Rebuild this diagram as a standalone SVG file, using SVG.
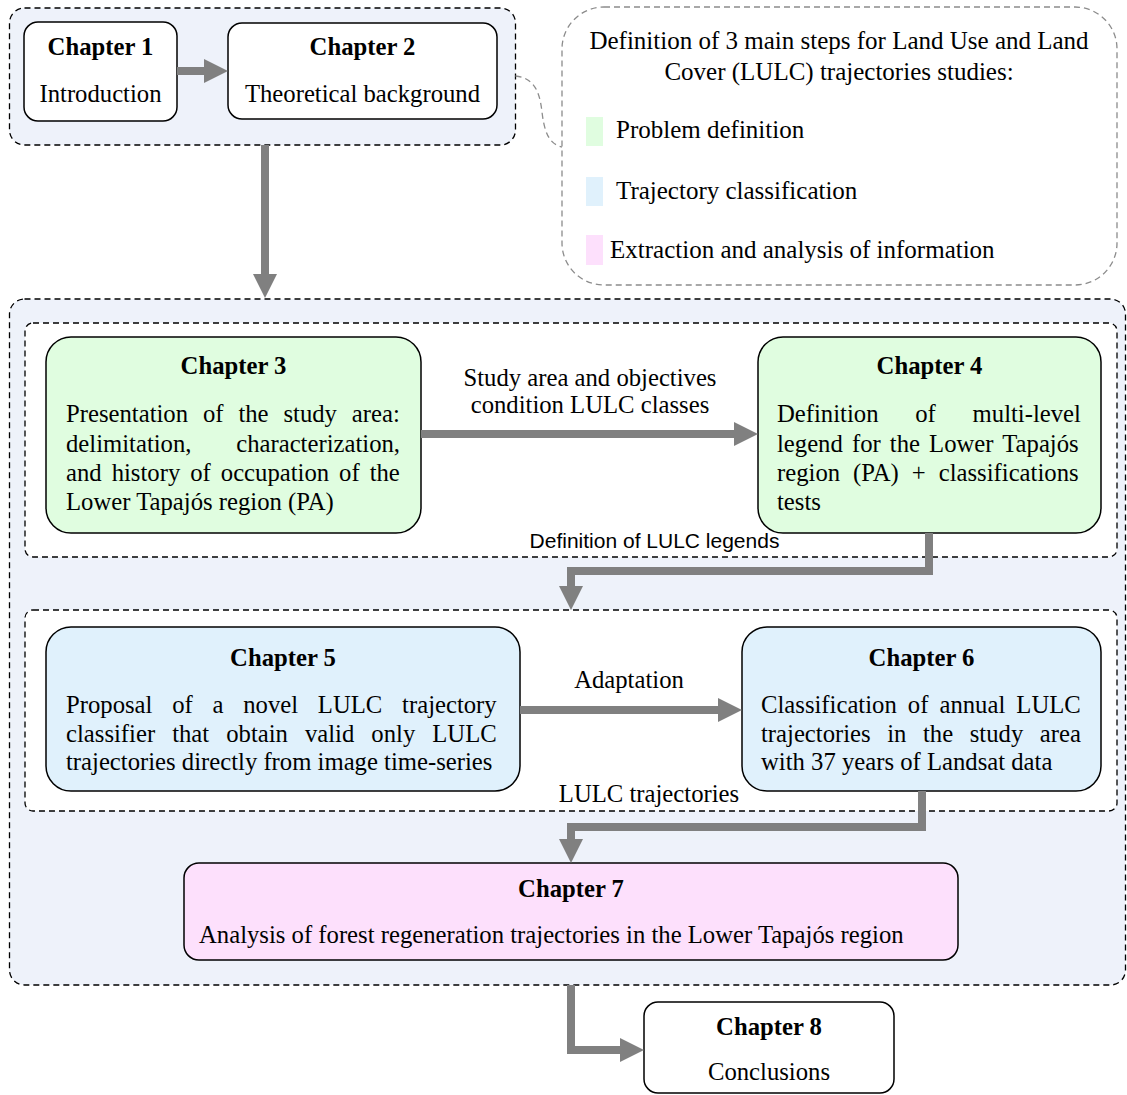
<svg xmlns="http://www.w3.org/2000/svg" width="1127" height="1095" viewBox="0 0 1127 1095">
<defs>
<style>
.frame{fill:#eef2fa;stroke:#000;stroke-width:1.3;stroke-dasharray:6,4}
.inner{fill:#fff;stroke:#000;stroke-width:1.3;stroke-dasharray:6,4}
.legend{fill:#fff;stroke:#8c8c8c;stroke-width:1.3;stroke-dasharray:6,4}
.box{stroke:#000;stroke-width:1.5}
.white{fill:#fff}
.green{fill:#e0fde0}
.blue{fill:#e0f1fc}
.pink{fill:#fde0fc}
.conn{fill:none;stroke:#808080;stroke-width:8;stroke-linejoin:miter;marker-end:url(#head)}
text{font-family:"Liberation Serif","Times New Roman",serif;font-size:24.7px;fill:#000}
.h{font-weight:bold;text-anchor:middle}
.c{text-anchor:middle}
.e{text-anchor:end}
.lg{font-size:25px}
.sans{font-family:"Liberation Sans",Arial,sans-serif;font-size:21px}
</style>
<marker id="head" markerUnits="userSpaceOnUse" markerWidth="24" markerHeight="24" refX="0" refY="12" orient="auto" overflow="visible">
<path d="M0,0 L24,12 L0,24 Z" fill="#808080"/>
</marker>
</defs>

<g id="containers">
<rect class="frame" x="9.5" y="8" width="506" height="137" rx="15"/>
<rect class="frame" x="9.5" y="299" width="1116" height="686" rx="15"/>
<rect class="inner" x="25" y="323" width="1092" height="234" rx="8"/>
<rect class="inner" x="25" y="610" width="1092" height="201" rx="8"/>
</g>

<g id="legend">
<path d="M515.5,76 C536,78 540,95 542,112 S548,145 563,147" fill="none" stroke="#8c8c8c" stroke-width="1.3" stroke-dasharray="6,4"/>
<rect class="legend" x="562" y="7" width="555" height="278" rx="42"/>
<text class="c lg" x="839" y="49">Definition of 3 main steps for Land Use and Land</text>
<text class="c lg" x="839" y="80">Cover (LULC) trajectories studies:</text>
<rect class="green" x="586" y="117" width="17" height="29"/>
<text class="lg" x="616" y="138">Problem definition</text>
<rect class="blue" x="586" y="177" width="17" height="29"/>
<text class="lg" x="616" y="199">Trajectory classification</text>
<rect class="pink" x="586" y="235" width="17" height="30"/>
<text class="lg" x="610" y="258">Extraction and analysis of information</text>
</g>

<g id="chapter1">
<rect class="box white" x="24" y="22" width="153" height="99" rx="14"/>
<text class="h" x="100.5" y="55">Chapter 1</text>
<text class="c" x="100.5" y="102">Introduction</text>
</g>

<g id="chapter2">
<rect class="box white" x="228" y="23" width="269" height="96" rx="14"/>
<text class="h" x="362.5" y="55">Chapter 2</text>
<text class="c" x="362.5" y="102">Theoretical background</text>
</g>

<g id="chapter3">
<rect class="box green" x="46" y="337" width="375" height="196" rx="25"/>
<text class="h" x="233.5" y="374">Chapter 3</text>
<text x="66" y="422" word-spacing="8.73">Presentation of the study area:</text>
<text x="66" y="452">delimitation,</text>
<text class="e" x="400" y="452">characterization,</text>
<text x="66" y="481" word-spacing="3.83">and history of occupation of the</text>
<text x="66" y="510">Lower Tapajós region (PA)</text>
</g>

<g id="chapter4">
<rect class="box green" x="758" y="337" width="343" height="196" rx="25"/>
<text class="h" x="929.5" y="374">Chapter 4</text>
<text x="777" y="422" word-spacing="30.6">Definition of multi-level</text>
<text x="777" y="452" word-spacing="2.95">legend for the Lower Tapajós</text>
<text x="777" y="481" word-spacing="6.83">region (PA) + classifications</text>
<text x="777" y="510">tests</text>
</g>

<g id="chapter5">
<rect class="box blue" x="46" y="627" width="474" height="164" rx="25"/>
<text class="h" x="283" y="666">Chapter 5</text>
<text x="66" y="713" word-spacing="13.6">Proposal of a novel LULC trajectory</text>
<text x="66" y="742" word-spacing="10.87">classifier that obtain valid only LULC</text>
<text x="66" y="770">trajectories directly from image time-series</text>
</g>

<g id="chapter6">
<rect class="box blue" x="742" y="627" width="359" height="164" rx="25"/>
<text class="h" x="921.5" y="666">Chapter 6</text>
<text x="761" y="713" word-spacing="4.9">Classification of annual LULC</text>
<text x="761" y="742" word-spacing="10.4">trajectories in the study area</text>
<text x="761" y="770">with 37 years of Landsat data</text>
</g>

<g id="chapter7">
<rect class="box pink" x="184" y="863" width="774" height="97" rx="15"/>
<text class="h" x="571" y="897">Chapter 7</text>
<text x="199" y="943">Analysis of forest regeneration trajectories in the Lower Tapajós region</text>
</g>

<g id="chapter8">
<rect class="box white" x="644" y="1002" width="250" height="91" rx="14"/>
<text class="h" x="769" y="1035">Chapter 8</text>
<text class="c" x="769" y="1080">Conclusions</text>
</g>

<g id="connectors">
<path class="conn" d="M177,71 H204"/>
<path class="conn" d="M265,145 V274"/>
<path class="conn" d="M421,434 H734"/>
<path class="conn" d="M929,533 V571 H571 V586"/>
<path class="conn" d="M520,710 H718"/>
<path class="conn" d="M922,791 V827 H571 V839"/>
<path class="conn" d="M571,985 V1050 H620"/>
<text class="c" x="590" y="386">Study area and objectives</text>
<text class="c" x="590" y="413">condition LULC classes</text>
<text class="c sans" x="654.5" y="548">Definition of LULC legends</text>
<text class="c" x="629" y="688">Adaptation</text>
<text class="c" x="649" y="802">LULC trajectories</text>
</g>
</svg>
